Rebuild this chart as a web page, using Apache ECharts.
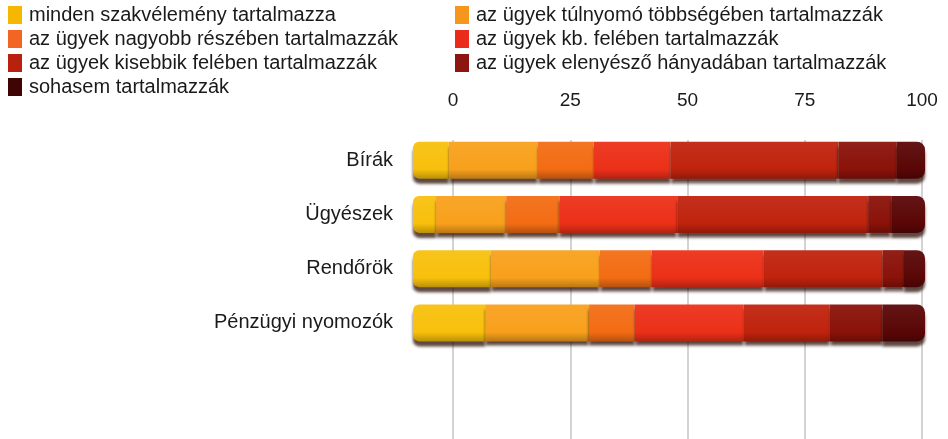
<!DOCTYPE html>
<html>
<head>
<meta charset="utf-8">
<script src="https://cdn.jsdelivr.net/npm/echarts@6/dist/echarts.min.js"></script>
<style>
html,body{margin:0;padding:0;background:#fff;}
#c{width:948px;height:439px;}
</style>
</head>
<body>
<div id="c"></div>
<script>
// ---- data ----
var categories = ['Bírák', 'Ügyészek', 'Rendőrök', 'Pénzügyi nyomozók'];
var seriesNames = [
  'minden szakvélemény tartalmazza',
  'az ügyek túlnyomó többségében tartalmazzák',
  'az ügyek nagyobb részében tartalmazzák',
  'az ügyek kb. felében tartalmazzák',
  'az ügyek kisebbik felében tartalmazzák',
  'az ügyek elenyésző hányadában tartalmazzák',
  'sohasem tartalmazzák'
];
var minden     = [7.0, 4.5, 15.2, 14.1];
var tulnyomo   = [17.4, 13.7, 21.3, 20.3];
var nagyobb    = [10.9, 10.4, 10.1, 8.9];
var kbFeleben  = [15.0, 23.0, 21.9, 21.3];
var kisebbik   = [32.8, 37.3, 23.2, 16.8];
var elenyeszo  = [11.4, 4.5, 4.2, 10.3];
var sohasem    = [5.5, 6.6, 4.1, 8.3];
var tickValues = [0, 25, 50, 75, 100];

var seriesValues = [minden, tulnyomo, nagyobb, kbFeleben, kisebbik, elenyeszo, sohasem];
var barColors = ['#f8c00c', '#f8a01c', '#f36c14', '#ec3018', '#c0230d', '#8a1209', '#5a0606'];
var legendColors = ['#f5b700', '#f7961d', '#f26522', '#ea2b1c', '#b9210f', '#8d1612', '#3f0505'];

function shade(hex, f) {
  var n = parseInt(hex.slice(1), 16);
  var r = (n >> 16) & 255, g = (n >> 8) & 255, b = n & 255;
  function c(v) { v = f < 0 ? v * (1 + f) : v + (255 - v) * f; return Math.max(0, Math.min(255, Math.round(v))); }
  return 'rgb(' + c(r) + ',' + c(g) + ',' + c(b) + ')';
}

var series = seriesValues.map(function (vals, i) {
  var radius = 0;
  if (i === 0) radius = [6, 0, 0, 6];
  if (i === seriesValues.length - 1) radius = [0, 8, 8, 0];
  return {
    name: seriesNames[i],
    type: 'bar',
    stack: 'total',
    xAxisIndex: 0,
    yAxisIndex: 0,
    barWidth: 37,
    data: vals,
    itemStyle: {
      borderRadius: radius,
      color: {
        type: 'linear', x: 0, y: 0, x2: 0, y2: 1,
        colorStops: [
          { offset: 0, color: shade(barColors[i], 0.06) },
          { offset: 0.75, color: barColors[i] },
          { offset: 1, color: shade(barColors[i], -0.25) }
        ]
      },
      shadowColor: 'rgba(40,10,0,0.75)',
      shadowOffsetY: 5,
      shadowBlur: 3
    },
    emphasis: { disabled: true }
  };
});

var leftNames = [seriesNames[0], seriesNames[2], seriesNames[4], seriesNames[6]];
var rightNames = [seriesNames[1], seriesNames[3], seriesNames[5]];
function legendData(names) {
  return names.map(function (n) {
    return { name: n, icon: 'rect', itemStyle: { color: legendColors[seriesNames.indexOf(n)] } };
  });
}
var legendText = { fontFamily: 'Liberation Sans, Arial, sans-serif', fontSize: 20, lineHeight: 20, color: '#1a1a1a', padding: [0, 0, 0, 2] };

var chart = echarts.init(document.getElementById('c'), null, { renderer: 'canvas' });
chart.setOption({
  backgroundColor: '#ffffff',
  animation: false,
  legend: [
    { orient: 'vertical', left: 4, top: 3, padding: [2, 4], itemWidth: 14, itemHeight: 18, itemGap: 4,
      data: legendData(leftNames), textStyle: legendText, selectedMode: false },
    { orient: 'vertical', left: 451, top: 3, padding: [2, 4], itemWidth: 14, itemHeight: 18, itemGap: 4,
      data: legendData(rightNames), textStyle: legendText, selectedMode: false }
  ],
  grid: [
    { left: 413, width: 512, top: 133, height: 217 },
    { left: 453, width: 469, top: 140, bottom: 0 }
  ],
  xAxis: [
    { gridIndex: 0, type: 'value', min: 0, max: 100, show: false },
    { gridIndex: 1, type: 'value', min: 0, max: 100, interval: 25, position: 'top',
      axisLine: { show: false }, axisTick: { show: false },
      axisLabel: { margin: 30, fontFamily: 'Liberation Sans, Arial, sans-serif', fontSize: 19, color: '#1a1a1a',
        formatter: function (v) { return tickValues.indexOf(v) >= 0 ? String(v) : ''; } },
      splitLine: { show: true, lineStyle: { color: '#c4c4c4', width: 1.5 } } }
  ],
  yAxis: [
    { gridIndex: 0, type: 'category', data: categories, inverse: true,
      axisLine: { show: false }, axisTick: { show: false },
      axisLabel: { margin: 20, fontFamily: 'Liberation Sans, Arial, sans-serif', fontSize: 20, color: '#1a1a1a' } },
    { gridIndex: 1, type: 'value', show: false, min: 0, max: 1 }
  ],
  series: series
});
</script>
</body>
</html>
